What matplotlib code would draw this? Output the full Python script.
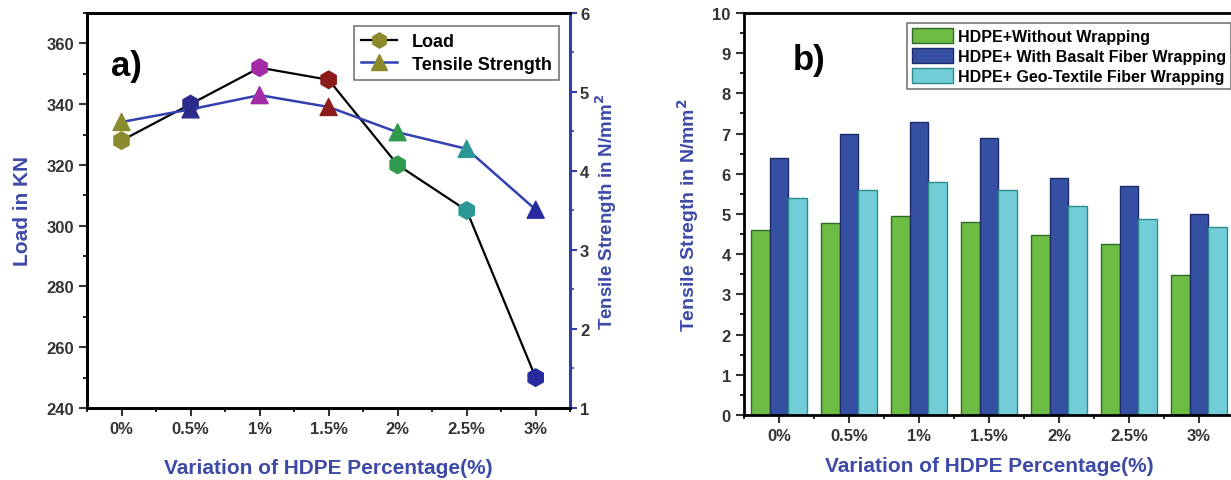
import numpy as np
import matplotlib
matplotlib.use("Agg")
import matplotlib.pyplot as plt
from matplotlib.ticker import MultipleLocator

plt.rcParams['font.family'] = ['Liberation Sans', 'DejaVu Sans']
plt.rcParams['font.weight'] = 'bold'
plt.rcParams['axes.labelweight'] = 'bold'
plt.rcParams['mathtext.default'] = 'bf'

categorias = ["0%", "0.5%", "1%", "1.5%", "2%", "2.5%", "3%"]
carga = [328, 340, 352, 348, 320, 305, 250]
resistencia = [4.62, 4.78, 4.96, 4.81, 4.49, 4.28, 3.51]
colores_punto = ["#8b8b2e", "#2b2b8c", "#a32ca6", "#8c1c1c", "#2e9a4c", "#2b9896", "#2a2aa0"]

sin_envoltura = [4.6, 4.77, 4.95, 4.8, 4.48, 4.25, 3.48]
con_basalto = [6.4, 7.0, 7.3, 6.9, 5.9, 5.7, 5.0]
con_geotextil = [5.4, 5.6, 5.8, 5.6, 5.2, 4.88, 4.68]

azul_txt = "#3d4aa8"
x = np.arange(len(categorias))

fig = plt.figure(figsize=(12.31, 4.81), dpi=100)

# Panel a) carga y resistencia
ax1 = fig.add_axes([0.0707, 0.1497, 0.3925, 0.8213])
ax2 = ax1.twinx()
ax1.plot(x, carga, color="black", lw=1.6, zorder=2)
ax1.scatter(x, carga, marker="h", s=160, c=colores_punto, zorder=3)
ax2.plot(x, resistencia, color="#3340b0", lw=1.8, zorder=2)
ax2.scatter(x, resistencia, marker="^", s=150, c=colores_punto, zorder=3)

ax1.set_xlim(-0.5, 6.5)
ax1.set_ylim(240, 370)
ax2.set_ylim(1, 6)
ax1.set_xticks(x)
ax1.set_xticklabels(categorias)
ax1.xaxis.set_minor_locator(MultipleLocator(0.5))
ax1.yaxis.set_major_locator(MultipleLocator(20))
ax1.yaxis.set_minor_locator(MultipleLocator(10))
ax2.yaxis.set_major_locator(MultipleLocator(1))
ax2.yaxis.set_minor_locator(MultipleLocator(0.5))
for s in ax1.spines.values():
    s.set_linewidth(2)
for s in ax2.spines.values():
    s.set_linewidth(2)
ax2.spines["right"].set_color("#3340b0")
ax1.tick_params(axis="both", which="major", labelsize=12, width=1.5, length=6, colors="#333333")
ax1.tick_params(axis="both", which="minor", width=1.2, length=3)
ax2.tick_params(axis="y", which="major", labelsize=12, width=1.5, length=5, pad=2,
                colors="#3340b0", labelcolor="#333333")
ax2.tick_params(axis="y", which="minor", width=1.2, length=3, colors="#3340b0")
ax1.set_xlabel("Variation of HDPE Percentage(%)", fontsize=15, color=azul_txt, labelpad=16)
ax1.set_ylabel("Load in KN", fontsize=15, color=azul_txt, labelpad=10)
ax2.set_ylabel("Tensile Strength in N/mm$^2$", fontsize=13.5, color=azul_txt, labelpad=3)
ax1.text(0.05, 0.91, "a)", transform=ax1.transAxes, fontsize=25, fontweight="bold", va="top")

h1 = ax1.plot([], [], color="black", lw=1.6, marker="h", ms=11, mfc="#8b8b2e", mec="#8b8b2e")[0]
h2 = ax1.plot([], [], color="#3340b0", lw=1.8, marker="^", ms=11, mfc="#8b8b2e", mec="#8b8b2e")[0]
leg = ax1.legend([h1, h2], ["Load", "Tensile Strength"], loc="upper right",
                 bbox_to_anchor=(0.995, 0.99), fontsize=13, fancybox=False,
                 edgecolor="#555555", handlelength=2.0, borderpad=0.4, labelspacing=0.3)
leg.get_frame().set_linewidth(1.2)

# Panel b) barras
ax3 = fig.add_axes([0.6044, 0.1351, 0.398, 0.8359])
ancho = 0.27
ax3.bar(x - ancho, sin_envoltura, ancho, color="#6dbd45", edgecolor="#2f6a25", lw=1, label="HDPE+Without Wrapping")
ax3.bar(x, con_basalto, ancho, color="#3550a3", edgecolor="#1c2a6a", lw=1, label="HDPE+ With Basalt Fiber Wrapping")
ax3.bar(x + ancho, con_geotextil, ancho, color="#72cdd8", edgecolor="#2b8c8c", lw=1, label="HDPE+ Geo-Textile Fiber Wrapping")
ax3.set_xlim(-0.5, 6.5)
ax3.set_ylim(0, 10)
ax3.set_xticks(x)
ax3.set_xticklabels(categorias)
ax3.xaxis.set_minor_locator(MultipleLocator(0.5))
ax3.yaxis.set_major_locator(MultipleLocator(1))
ax3.yaxis.set_minor_locator(MultipleLocator(0.5))
for s in ax3.spines.values():
    s.set_linewidth(2)
ax3.tick_params(axis="both", which="major", labelsize=12, width=1.5, length=6, colors="#333333")
ax3.tick_params(axis="both", which="minor", width=1.2, length=3)
ax3.set_xlabel("Variation of HDPE Percentage(%)", fontsize=15, color=azul_txt, labelpad=9)
ax3.set_ylabel("Tensile Stregth in N/mm$^2$", fontsize=14, color=azul_txt, labelpad=8)
ax3.text(0.1, 0.925, "b)", transform=ax3.transAxes, fontsize=25, fontweight="bold", va="top")
leg3 = ax3.legend(loc="upper right", bbox_to_anchor=(1.01, 0.995), fontsize=11.5, fancybox=False,
                  edgecolor="#555555", handlelength=2.6, handleheight=1.1, borderpad=0.3,
                  labelspacing=0.25, handletextpad=0.3)
leg3.get_frame().set_linewidth(1.2)

fig.savefig("out.png", dpi=100)
